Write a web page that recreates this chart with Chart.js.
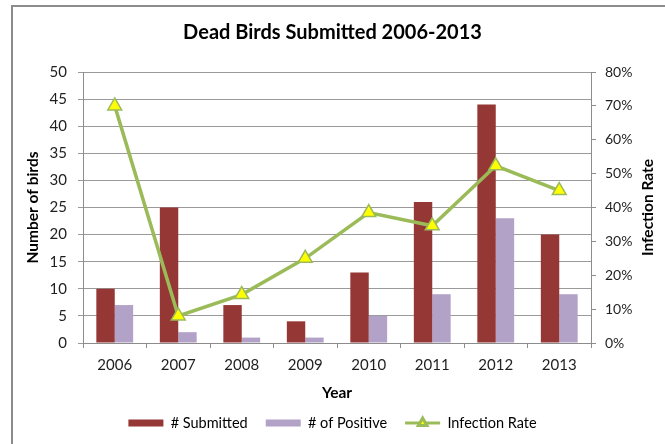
<!DOCTYPE html>
<html>
<head>
<meta charset="utf-8">
<title>Dead Birds Submitted 2006-2013</title>
<script src="https://cdn.jsdelivr.net/npm/chart.js@4.4.0/dist/chart.umd.min.js"></script>
<style>
    html, body { margin: 0; padding: 0; background: #fff; }
    #wrap { width: 665px; height: 444px; }
</style>
</head>
<body>
<div id="wrap"><canvas id="birdsChart" width="665" height="444"></canvas></div>
<script>
// ==================== Data ====================
const years = ['2006', '2007', '2008', '2009', '2010', '2011', '2012', '2013'];
const submitted = [10, 25, 7, 4, 13, 26, 44, 20];
const positive = [7, 2, 1, 1, 5, 9, 23, 9];
const infectionRate = [70, 8, 14.3, 25, 38.5, 34.6, 52.3, 45];   // percent

const countTicks = [0, 5, 10, 15, 20, 25, 30, 35, 40, 45, 50];
const rateTicks = [0, 10, 20, 30, 40, 50, 60, 70, 80];

// ==================== Styles ====================
const FONT = 'Lato, "Open Sans", sans-serif';
const GRID = '#9a9a9a';
const AXIS = '#8c8c8c';
const TEXT = '#1f1f1f';
const RED = '#953735';
const LILAC = '#B3A2C7';
const GREEN = '#9BBB59';
const YELLOW = '#FFFF00';

// outer frame around the chart
const framePlugin = {
    id: 'frame',
    beforeDraw(chart) {
        const ctx = chart.ctx;
        ctx.save();
        ctx.strokeStyle = AXIS;
        ctx.lineWidth = 2;
        ctx.strokeRect(12, 6, 700, 500);
        ctx.restore();
    }
};

// right axis title reads bottom-to-top, same as the left one
const rightTitlePlugin = {
    id: 'rightTitle',
    afterDraw(chart) {
        const ctx = chart.ctx;
        const scale = chart.scales.y1;
        const area = chart.chartArea;
        ctx.save();
        ctx.translate(scale.right - 17, (area.top + area.bottom) / 2);
        ctx.rotate(-Math.PI / 2);
        ctx.font = 'bold 15.5px ' + FONT;
        ctx.fillStyle = '#000';
        ctx.textAlign = 'center';
        ctx.textBaseline = 'middle';
        ctx.fillText('Infection Rate', 0, 0);
        ctx.restore();
    }
};

// legend entry for the line: short line with a triangle marker
const legendLinePlugin = {
    id: 'legendLine',
    afterDraw(chart) {
        const legend = chart.legend;
        if (!legend || !legend.legendHitBoxes) return;
        const hb = legend.legendHitBoxes[2];
        const boxWidth = legend.options.labels.boxWidth;
        const cy = hb.top + hb.height / 2;
        const ctx = chart.ctx;
        ctx.save();
        ctx.strokeStyle = GREEN;
        ctx.lineWidth = 3;
        ctx.beginPath();
        ctx.moveTo(hb.left, cy);
        ctx.lineTo(hb.left + boxWidth, cy);
        ctx.stroke();
        ctx.fillStyle = YELLOW;
        ctx.strokeStyle = GREEN;
        Chart.helpers.drawPoint(ctx, { pointStyle: 'triangle', radius: 5, borderWidth: 1, rotation: 0 },
            hb.left + boxWidth / 2, cy);
        ctx.restore();
    }
};

// ==================== Chart ====================
const ctx = document.getElementById('birdsChart').getContext('2d');

new Chart(ctx, {
    type: 'bar',
    data: {
        labels: years,
        datasets: [{
            label: '# Submitted',
            data: submitted,
            backgroundColor: RED,
            borderWidth: 0,
            yAxisID: 'y',
            order: 1
        }, {
            label: '# of Positive',
            data: positive,
            backgroundColor: LILAC,
            borderWidth: 0,
            yAxisID: 'y',
            order: 1
        }, {
            type: 'line',
            label: 'Infection Rate',
            data: infectionRate,
            yAxisID: 'y1',
            borderColor: GREEN,
            backgroundColor: GREEN,
            borderWidth: 3.5,
            tension: 0,
            pointStyle: 'triangle',
            pointRadius: 8,
            pointBackgroundColor: YELLOW,
            pointBorderColor: GREEN,
            pointBorderWidth: 1.5,
            order: 0
        }]
    },
    options: {
        responsive: false,
        animation: false,
        events: [],
        layout: {
            padding: { left: 0, right: 0, top: 5, bottom: 3.75 }
        },
        datasets: {
            bar: {
                categoryPercentage: 0.58,
                barPercentage: 1.0
            }
        },
        plugins: {
            title: {
                display: true,
                text: 'Dead Birds Submitted 2006-2013',
                color: '#000',
                font: { family: FONT, size: 20, weight: 'bold' },
                padding: { top: 15.7, bottom: 27.3 }
            },
            legend: {
                position: 'bottom',
                labels: {
                    color: '#000',
                    font: { family: FONT, size: 14.5 },
                    boxWidth: 35,
                    boxHeight: 7,
                    padding: 18,
                    sort: (a, b) => a.datasetIndex - b.datasetIndex,
                    generateLabels(chart) {
                        const items = Chart.defaults.plugins.legend.labels.generateLabels(chart);
                        items.forEach(item => {
                            if (item.datasetIndex === 2) {
                                item.fillStyle = 'rgba(0,0,0,0)';
                                item.strokeStyle = 'rgba(0,0,0,0)';
                            }
                            item.lineWidth = 0;
                        });
                        return items;
                    }
                }
            },
            tooltip: { enabled: false }
        },
        scales: {
            x: {
                grid: {
                    offset: true,
                    drawOnChartArea: false,
                    tickLength: 5,
                    color: AXIS
                },
                border: { color: AXIS },
                ticks: {
                    color: TEXT,
                    font: { family: FONT, size: 15 },
                    padding: 8
                },
                title: {
                    display: true,
                    text: 'Year',
                    color: '#000',
                    font: { family: FONT, size: 15.5, weight: 'bold' },
                    padding: { top: 0, bottom: -5 }
                },
                afterFit(scale) { scale.height = 54.75; }
            },
            y: {
                position: 'left',
                min: countTicks[0],
                max: countTicks[countTicks.length - 1],
                afterBuildTicks(scale) {
                    scale.ticks = countTicks.map(v => ({ value: v }));
                },
                grid: {
                    color: GRID,
                    tickLength: 5
                },
                border: { color: AXIS },
                ticks: {
                    color: TEXT,
                    font: { family: FONT, size: 15 },
                    padding: 11
                },
                title: {
                    display: true,
                    text: 'Number of birds',
                    color: '#000',
                    font: { family: FONT, size: 15.5, weight: 'bold' },
                    padding: { top: 23.4, bottom: 0 }
                },
                afterFit(scale) { scale.width = 83; }
            },
            y1: {
                position: 'right',
                min: rateTicks[0],
                max: rateTicks[rateTicks.length - 1],
                afterBuildTicks(scale) {
                    scale.ticks = rateTicks.map(v => ({ value: v }));
                },
                grid: {
                    drawOnChartArea: false,
                    color: AXIS,
                    tickLength: 5
                },
                border: { color: AXIS },
                ticks: {
                    color: TEXT,
                    font: { family: FONT, size: 14 },
                    padding: 9,
                    callback: value => value + '%'
                },
                afterFit(scale) { scale.width = 74; }
            }
        }
    },
    plugins: [framePlugin, rightTitlePlugin, legendLinePlugin]
});
</script>
</body>
</html>
